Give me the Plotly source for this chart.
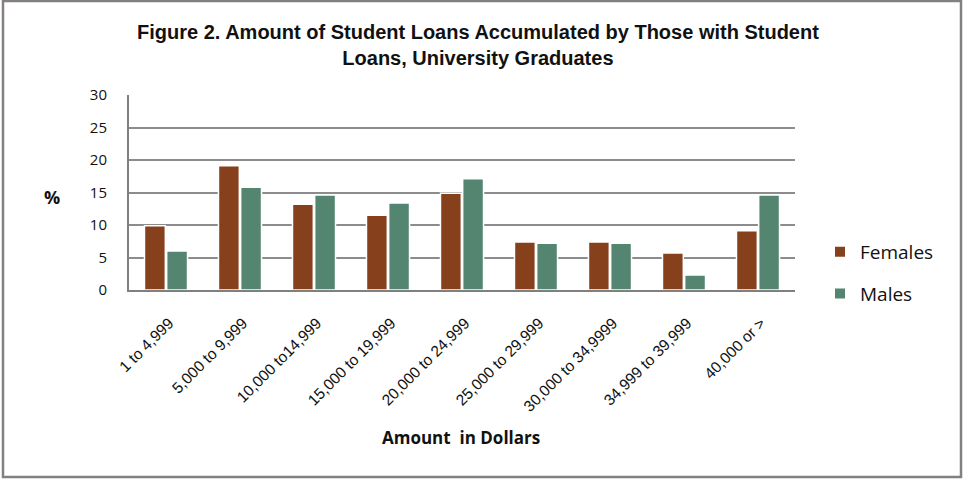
import plotly.graph_objects as go

categories = ["1 to 4,999", "5,000 to 9,999", "10,000 to14,999", "15,000 to 19,999",
              "20,000 to 24,999", "25,000 to 29,999", "30,000 to 34,9999",
              "34,999 to 39,999", "40,000 or >"]
females = [9.9, 19.1, 13.2, 11.5, 14.9, 7.4, 7.4, 5.7, 9.1]
males = [6.0, 15.8, 14.6, 13.4, 17.1, 7.2, 7.2, 2.3, 14.6]
y_ticks = [0, 5, 10, 15, 20, 25, 30]

W, H = 963, 479
L, R, T, B = 129, 795, 95, 290
pw, ph = R - L, B - T

fig = go.Figure()
fig.add_trace(go.Bar(name="Females", x=categories, y=females, legendgroup="f",
                     marker=dict(color="#86411C", line=dict(color="white", width=1.5))))
fig.add_trace(go.Bar(name="Males", x=categories, y=males, legendgroup="m",
                     marker=dict(color="#538570", line=dict(color="white", width=1.5))))

def px(x):
    return (x - L) / pw

def py(y):
    return (B - y) / ph

fig.update_layout(
    width=W, height=H,
    margin=dict(l=L, r=W - R, t=T, b=H - B),
    paper_bgcolor="white", plot_bgcolor="white",
    barmode="group", bargap=0.40, bargroupgap=0.06,
    font=dict(family="Liberation Sans, Arial", color="#111"),
    legend=dict(x=px(820), y=py(273), xanchor="left", yanchor="middle",
                font=dict(family="Open Sans, sans-serif", size=19, color="#111"),
                itemsizing="constant", tracegroupgap=14, bgcolor="rgba(0,0,0,0)"),
    showlegend=True,
)
fig.update_xaxes(tickangle=-45, showline=True, linecolor="#808080", linewidth=2,
                 ticks="", ticklabelshift=3, ticklabelstandoff=16,
                 tickfont=dict(family="Liberation Sans, Arial", size=15.5, color="#111"),
                 showgrid=False)
fig.update_yaxes(range=[0, 30], tickvals=y_ticks, showline=True, linecolor="#808080", linewidth=2,
                 showgrid=True, gridcolor="#8c8c8c", gridwidth=1.5, zeroline=False,
                 ticks="", ticklen=0, ticklabelstandoff=17,
                 tickfont=dict(family="Open Sans, sans-serif", size=15, color="#111"))

fig.add_annotation(text="<b>Figure 2. Amount of Student Loans Accumulated by Those with Student<br>Loans, University Graduates</b>",
                   x=px(478), y=py(45), xref="paper", yref="paper", xanchor="center", yanchor="middle",
                   showarrow=False, font=dict(family="Liberation Sans, Arial", size=20, color="#111"))
fig.add_annotation(text="<b>%</b>", x=px(52), y=py(197), xref="paper", yref="paper",
                   xanchor="center", yanchor="middle",
                   showarrow=False, font=dict(family="Open Sans, sans-serif", size=18, color="#111"))
fig.add_annotation(text="<b>Amount  in Dollars</b>", x=px(461), y=py(437), xref="paper", yref="paper",
                   xanchor="center", yanchor="middle",
                   showarrow=False, font=dict(family="Open Sans, sans-serif", size=17, color="#111"))

fig.add_shape(type="rect", xref="paper", yref="paper",
              x0=px(3), x1=px(961), y0=py(477), y1=py(1),
              line=dict(color="#858080", width=2.5), fillcolor="rgba(0,0,0,0)", layer="above")

fig.write_html("out.html")
